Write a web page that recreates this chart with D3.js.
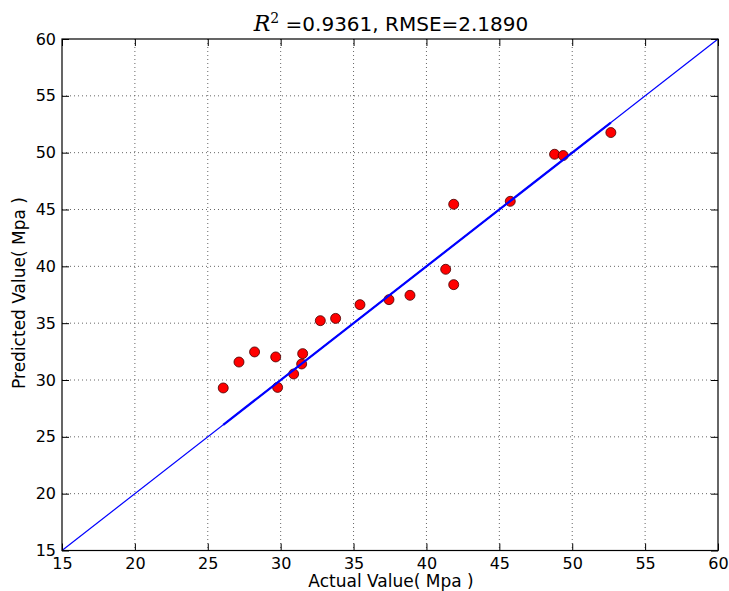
<!DOCTYPE html>
<html><head><meta charset="utf-8">
<script src="https://cdn.jsdelivr.net/npm/d3@7"></script>
<style>body{margin:0;background:#fff;} text{font-family:"DejaVu Sans",sans-serif;}</style>
</head><body>
<svg id="c" width="729" height="591"></svg>
<script>
const actual =    [26.06,27.14,28.21,29.66,29.79,30.89,31.44,31.51,32.72,33.77,35.44,37.43,38.87,41.32,41.87,41.87,45.75,48.79,49.38,52.65];
const predicted = [29.30,31.58,32.47,32.03,29.35,30.53,31.41,32.32,35.22,35.42,36.63,37.07,37.45,39.74,38.39,45.46,45.72,49.86,49.75,51.77];
const xTicks = [15,20,25,30,35,40,45,50,55,60];
const yTicks = [15,20,25,30,35,40,45,50,55,60];
const title = "=0.9361, RMSE=2.1890";
const xLabel = "Actual Value( Mpa )";
const yLabel = "Predicted Value( Mpa )";

const svg = d3.select("#c");
const L=62,R=718,T=39,B=550.5;
const x = d3.scaleLinear().domain([15,60]).range([L,R]);
const y = d3.scaleLinear().domain([15,60]).range([B,T]);

// grid
const g = svg.append("g");
g.selectAll(".gx").data(xTicks.slice(1,-1)).join("line")
  .attr("x1",d=>x(d)).attr("x2",d=>x(d)).attr("y1",T).attr("y2",B)
  .attr("stroke","#666").attr("stroke-width",1).attr("stroke-dasharray","1,3");
g.selectAll(".gy").data(yTicks.slice(1,-1)).join("line")
  .attr("y1",d=>y(d)).attr("y2",d=>y(d)).attr("x1",L).attr("x2",R)
  .attr("stroke","#666").attr("stroke-width",1).attr("stroke-dasharray","1,3");

// points
svg.append("g").selectAll("circle").data(actual).join("circle")
  .attr("cx",(d)=>x(d)).attr("cy",(d,i)=>y(predicted[i])).attr("r",5)
  .attr("fill","#ff0000").attr("stroke","#400").attr("stroke-width",0.8);

// lines
svg.append("line").attr("x1",x(15)).attr("y1",y(15)).attr("x2",x(60)).attr("y2",y(60))
  .attr("stroke","#0000ff").attr("stroke-width",1.2);
const mn=d3.min(actual), mx=d3.max(actual);
svg.append("line").attr("x1",x(mn)).attr("y1",y(mn)).attr("x2",x(mx)).attr("y2",y(mx))
  .attr("stroke","#0000ff").attr("stroke-width",2.2);

// axes with inward ticks on all sides
const ax = d3.axisBottom(x).tickValues(xTicks).tickSizeInner(-7).tickSizeOuter(0).tickPadding(7);
const axT = d3.axisTop(x).tickValues(xTicks).tickSizeInner(-7).tickSizeOuter(0).tickFormat("");
const ay = d3.axisLeft(y).tickValues(yTicks).tickSizeInner(-7).tickSizeOuter(0).tickPadding(6);
const ayR = d3.axisRight(y).tickValues(yTicks).tickSizeInner(-7).tickSizeOuter(0).tickFormat("");
function style(sel){sel.select(".domain").remove(); sel.selectAll("line").attr("stroke","#000"); sel.selectAll("text").attr("font-size",16).attr("fill","#000").style("font-family","DejaVu Sans");}
svg.append("g").attr("transform",`translate(0,${B})`).call(ax).call(style);
svg.append("g").attr("transform",`translate(0,${T})`).call(axT).call(style);
svg.append("g").attr("transform",`translate(${L},0)`).call(ay).call(style);
svg.append("g").attr("transform",`translate(${R},0)`).call(ayR).call(style);
svg.append("rect").attr("x",L).attr("y",T).attr("width",R-L).attr("height",B-T)
  .attr("fill","none").attr("stroke","#000").attr("stroke-width",1.2);

// title
const t = svg.append("text").attr("x",391).attr("y",31).attr("text-anchor","middle").attr("font-size",20);
t.append("tspan").text("R").attr("font-style","italic").attr("font-size",22).style("font-family","DejaVu Serif");
t.append("tspan").text("2").attr("font-size",14).attr("dy",-8).style("font-family","DejaVu Serif");
t.append("tspan").text(" "+title).attr("dy",8);

svg.append("text").attr("x",391).attr("y",587).attr("text-anchor","middle").attr("font-size",17).text(xLabel);
svg.append("text").attr("transform","translate(25,293) rotate(-90)").attr("text-anchor","middle").attr("font-size",17).text(yLabel);
</script>
</body></html>
